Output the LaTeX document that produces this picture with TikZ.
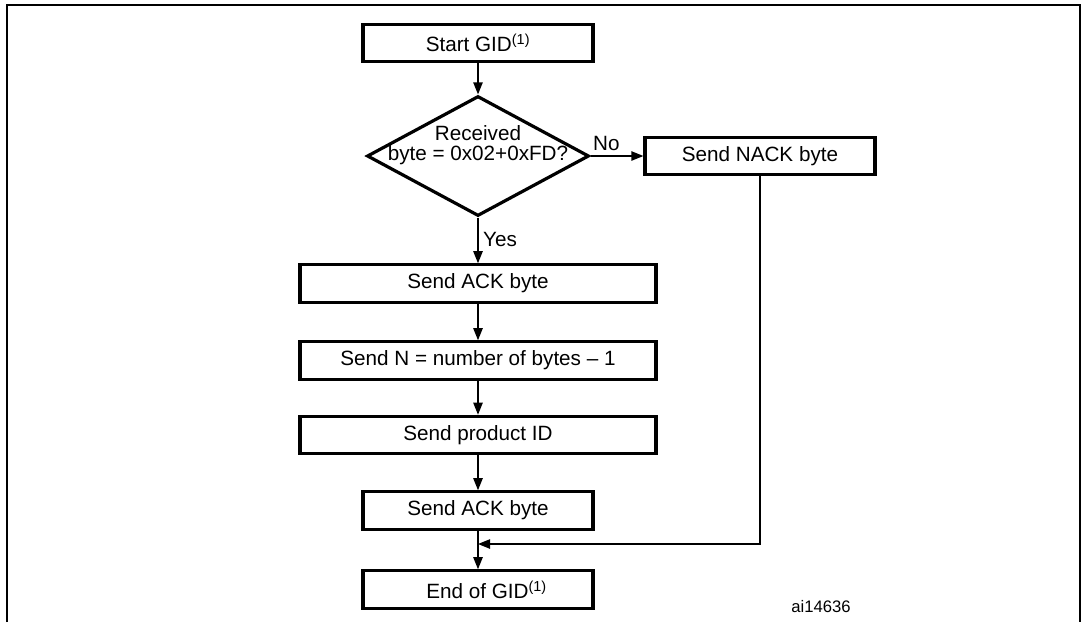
\documentclass[tikz,border=0pt]{standalone}
\usepackage{fontspec}
\setmainfont{Liberation Sans}
\usetikzlibrary{arrows.meta,shapes,shapes.geometric}
\usetikzlibrary{positioning}

\begin{document}
\begin{tikzpicture}[x=0.75pt,y=-0.75pt,>={Triangle[length=9pt,width=7pt]}]
            \tikzstyle{every node}=[font=\fontsize{15.5}{14.8}\selectfont];
            \tikzstyle{box}=[draw,line width=2.4pt,minimum width=172.5pt,minimum height=28pt,inner sep=0pt];
            \tikzstyle{widebox}=[box,minimum width=267pt];
            \tikzstyle{decision}=[draw,diamond,line width=2.4pt,minimum width=166.5pt,minimum height=90pt,inner sep=0pt];
            \tikzstyle{link}=[draw,line width=1pt];
            \useasboundingbox (0,0) rectangle (1082,622);
            \draw[line width=1.75pt] (7,622) -- (7,5) -- (1080,5) -- (1080,622);
            \node[box] (start) at (478, 43) {Start GID\textsuperscript{(1)}};
            \node[decision] (dec) at (478, 156) {};
            \node[align=center,inner sep=0pt] (dectext) at (478, 145) {Received\\byte = 0x02+0xFD?};
            \node[box] (nack) at (760, 156) {Send NACK byte};
            \node[widebox] (ack1) at (478, 283.5) {Send ACK byte};
            \node[widebox] (nlen) at (478, 360.5) {Send N = number of bytes -- 1};
            \node[widebox] (pid) at (478, 435) {Send product ID};
            \node[box] (ack2) at (478, 510.5) {Send ACK byte\hspace{22pt}};
            \node[box] (endg) at (478, 589.5) {\hspace{13pt}End of GID\textsuperscript{(1)}};
            \node[font=\fontsize{12.5}{14}\selectfont] (ref) at (821, 607) {ai14636};
            \coordinate (merge) at (478, 544);
            \path[link] [->] (start) -- (dec);
            \path[link] [->] (dec) -- node[above,pos=0.3] {No} (nack);
            \path[link] [->] (dec) -- node[right,pos=0.48] {Yes} (ack1);
            \path[link] [->] (ack1) -- (nlen);
            \path[link] [->] (nlen) -- (pid);
            \path[link] [->] (pid) -- (ack2);
            \path[link] [->] (ack2) -- (endg);
            \path[link] [->] (nack) |- (merge);
        \end{tikzpicture}
\end{document}
